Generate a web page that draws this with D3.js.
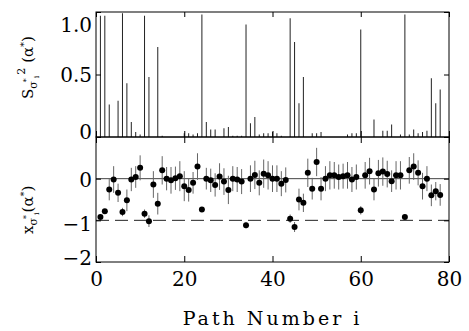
<!DOCTYPE html>
<html>
<head>
<meta charset="utf-8">
<script src="https://cdn.jsdelivr.net/npm/d3@7"></script>
<style>
  body { margin: 0; background: #fff; }
  svg { display: block; }
</style>
</head>
<body>
<svg></svg>
<script>
const width = 469;
const height = 331;
const serif = "'DejaVu Serif', serif";

// top panel: S^2 per path (only non-zero stems)
const stemPath = [1, 2, 3, 5, 6, 7, 8, 9, 10, 11, 12, 14, 15, 20, 21, 22, 23, 24, 25, 26, 27, 29, 30,
  31, 32, 33, 34, 35, 36, 37, 38, 39, 40, 41, 42, 44, 45, 46, 47, 49, 50, 51, 57, 58, 59, 60,
  63, 65, 66, 67, 69, 70, 71, 72, 73, 74, 75, 76, 77, 78];
const stemValue = [0.97, 0.97, 0.26, 0.29, 0.99, 0.43, 0.12, 0.04, 0.02, 0.97, 0.48, 0.72, 0.01,
  0.03, 0.03, 0.02, 0.03, 0.98, 0.12, 0.06, 0.06, 0.07, 0.08,
  0.01, 0.01, 0.01, 0.90, 0.11, 0.16, 0.02, 0.03, 0.03, 0.04, 0.03, 0.01, 0.95, 0.76, 0.27, 0.48,
  0.03, 0.03, 0.04, 0.02, 0.03, 0.03, 0.86,
  0.14, 0.05, 0.05, 0.10, 0.02, 0.98, 0.02, 0.06, 0.03, 0.04, 0.05, 0.47, 0.27, 0.38];

// bottom panel: x per path with error
const pathNumber = d3.range(1, 79);
const xValue = [-0.92, -0.78, -0.26, -0.02, -0.34, -0.80, -0.52, -0.02, 0.04, 0.26,
  -0.84, -1.02, -0.14, -0.60, 0.20, 0.00, -0.04, 0.01, 0.06, -0.18,
  -0.27, -0.10, 0.29, -0.74, 0.00, -0.04, -0.15, 0.05, -0.07, -0.27,
  0.00, -0.02, -0.07, -1.12, 0.00, 0.09, -0.10, 0.12, 0.08, 0.00,
  0.00, -0.12, -0.03, -0.96, -1.16, -0.50, -0.58, 0.14, -0.24, 0.40,
  -0.24, 0.00, 0.08, 0.08, 0.04, 0.06, 0.08, -0.02, 0.04, -0.76,
  0.08, 0.18, -0.26, 0.13, 0.17, 0.11, -0.06, 0.08, 0.08, -0.92,
  0.20, 0.29, 0.14, -0.18, 0.00, -0.40, -0.30, -0.39];
const xError = [0.05, 0.05, 0.26, 0.32, 0.22, 0.10, 0.26, 0.28, 0.26, 0.30,
  0.10, 0.14, 0.32, 0.26, 0.34, 0.28, 0.32, 0.28, 0.36, 0.36,
  0.28, 0.26, 0.32, 0.04, 0.26, 0.28, 0.28, 0.32, 0.32, 0.34,
  0.30, 0.30, 0.30, 0.07, 0.32, 0.34, 0.30, 0.34, 0.34, 0.32,
  0.32, 0.30, 0.30, 0.10, 0.12, 0.26, 0.22, 0.34, 0.26, 0.34,
  0.28, 0.30, 0.34, 0.32, 0.30, 0.30, 0.32, 0.30, 0.30, 0.10,
  0.32, 0.32, 0.26, 0.32, 0.34, 0.32, 0.26, 0.34, 0.34, 0.04,
  0.32, 0.32, 0.30, 0.32, 0.30, 0.26, 0.22, 0.26];

const xTicks = [0, 20, 40, 60, 80];
const topTicks = [0, 0.5, 1.0];
const bottomTicks = [-2, -1, 0];

const left = 96, right = 449;
const topY0 = 12, midY = 137, bottomY = 262;

let xScale = d3.scaleLinear().domain([0, 80]).range([left, right]);
let yTop = d3.scaleLinear().domain([0, 1]).range([midY, topY0]);
let yBottom = d3.scaleLinear().domain([-2, 1]).range([bottomY, midY]);

const svg = d3.select("svg")
    .attr("width", width)
    .attr("height", height);

// stems
svg.append("g")
  .selectAll("line")
  .data(stemPath.map((p, k) => ({ p, v: stemValue[k] })))
  .enter()
  .append("line")
    .attr("x1", d => xScale(d.p))
    .attr("x2", d => xScale(d.p))
    .attr("y1", yTop(0))
    .attr("y2", d => yTop(d.v))
    .attr("stroke", "#222")
    .attr("stroke-width", 1);

// reference lines
svg.append("line")
    .attr("x1", left).attr("x2", right)
    .attr("y1", yBottom(0)).attr("y2", yBottom(0))
    .attr("stroke", "#444").attr("stroke-width", 1);

svg.append("line")
    .attr("x1", left).attr("x2", right)
    .attr("y1", yBottom(-1)).attr("y2", yBottom(-1))
    .attr("stroke", "#222").attr("stroke-width", 1)
    .attr("stroke-dasharray", "13,6");

const points = pathNumber.map((p, k) => ({ p, v: xValue[k], e: xError[k] }));

// error bars
svg.append("g")
  .selectAll("line")
  .data(points)
  .enter()
  .append("line")
    .attr("x1", d => xScale(d.p))
    .attr("x2", d => xScale(d.p))
    .attr("y1", d => yBottom(d.v - d.e))
    .attr("y2", d => yBottom(d.v + d.e))
    .attr("stroke", "#666")
    .attr("stroke-width", 1);

svg.append("g")
  .selectAll("circle")
  .data(points)
  .enter()
  .append("circle")
    .attr("cx", d => xScale(d.p))
    .attr("cy", d => yBottom(d.v))
    .attr("r", 3)
    .attr("fill", "#000");

// frames
[[topY0, midY], [midY, bottomY]].forEach(([y0, y1]) => {
  svg.append("rect")
      .attr("x", left).attr("y", y0)
      .attr("width", right - left).attr("height", y1 - y0)
      .attr("fill", "none")
      .attr("stroke", "#000")
      .attr("stroke-width", 1);
});

// axes
const fmtTop = d => d === 0 ? "0" : d3.format(".1f")(d);
const styleTicks = g => g.selectAll(".tick text")
    .style("font-family", serif)
    .style("font-size", "20px")
    .attr("fill", "#000");

svg.append("g")
    .attr("transform", `translate(${left}, 0)`)
    .call(d3.axisLeft(yTop).tickValues(topTicks).tickFormat(fmtTop).tickSize(-5).tickPadding(4))
    .call(g => g.select(".domain").remove())
    .call(styleTicks)
    .call(g => g.selectAll(".tick text").attr("dy", d => d === 1 ? "0.95em" : d === 0 ? "0.05em" : "0.35em"));

svg.append("g")
    .attr("transform", `translate(${right}, 0)`)
    .call(d3.axisRight(yTop).tickValues(topTicks).tickFormat("").tickSize(-5))
    .call(g => g.select(".domain").remove());

svg.append("g")
    .attr("transform", `translate(${left}, 0)`)
    .call(d3.axisLeft(yBottom).tickValues(bottomTicks).tickFormat(d3.format("d")).tickSize(-5).tickPadding(4))
    .call(g => g.select(".domain").remove())
    .call(styleTicks)
    .call(g => g.selectAll(".tick text").attr("dy", d => d === -2 ? "0.1em" : d === -1 ? "0.5em" : "0.38em"));

svg.append("g")
    .attr("transform", `translate(${right}, 0)`)
    .call(d3.axisRight(yBottom).tickValues(bottomTicks).tickFormat("").tickSize(-5))
    .call(g => g.select(".domain").remove());

svg.append("g")
    .attr("transform", `translate(0, ${bottomY})`)
    .call(d3.axisBottom(xScale).tickValues(xTicks).tickSize(-6).tickPadding(10))
    .call(g => g.select(".domain").remove())
    .call(styleTicks);

svg.append("g")
    .attr("transform", `translate(0, ${topY0})`)
    .call(d3.axisTop(xScale).tickValues(xTicks).tickFormat("").tickSize(-5))
    .call(g => g.select(".domain").remove());

// ticks across the divider
svg.append("g")
    .attr("transform", `translate(0, ${midY})`)
    .call(d3.axisBottom(xScale).tickValues(xTicks).tickFormat("").tickSize(6))
    .call(g => g.select(".domain").remove());
svg.append("g")
    .attr("transform", `translate(0, ${midY})`)
    .call(d3.axisTop(xScale).tickValues(xTicks).tickFormat("").tickSize(6))
    .call(g => g.select(".domain").remove());

svg.selectAll(".tick line").attr("stroke", "#000");

// labels
svg.append("text")
    .attr("x", (left + right) / 2)
    .attr("y", 325)
    .style("text-anchor", "middle")
    .style("font-family", serif)
    .style("font-size", "19px")
    .style("letter-spacing", "3px")
    .text("Path Number i");

const topLabel = svg.append("text")
    .attr("transform", "translate(33, 99) rotate(-90)")
    .style("font-family", serif)
    .style("font-size", "15px");
topLabel.append("tspan").text("S");
topLabel.append("tspan").attr("dy", 4).style("font-size", "11px").text("σ");
topLabel.append("tspan").attr("dy", -8).attr("dx", -1).style("font-size", "8px").text("*");
topLabel.append("tspan").attr("dy", 10).style("font-size", "8px").text("i");
topLabel.append("tspan").attr("dy", -14).attr("dx", 1).style("font-size", "11px").text("2");
topLabel.append("tspan").attr("dy", 8).text(" (α");
topLabel.append("tspan").attr("dy", -6).style("font-size", "10px").text("*");
topLabel.append("tspan").attr("dy", 6).text(")");

const bottomLabel = svg.append("text")
    .attr("transform", "translate(33, 234) rotate(-90)")
    .style("font-family", serif)
    .style("font-size", "15px");
bottomLabel.append("tspan").text("x");
bottomLabel.append("tspan").attr("dy", 4).style("font-size", "11px").text("σ");
bottomLabel.append("tspan").attr("dy", -8).attr("dx", -1).style("font-size", "8px").text("*");
bottomLabel.append("tspan").attr("dy", 10).style("font-size", "8px").text("i");
bottomLabel.append("tspan").attr("dy", -6).text("(α");
bottomLabel.append("tspan").attr("dy", -6).style("font-size", "10px").text("*");
bottomLabel.append("tspan").attr("dy", 6).text(")");
</script>
</body>
</html>
